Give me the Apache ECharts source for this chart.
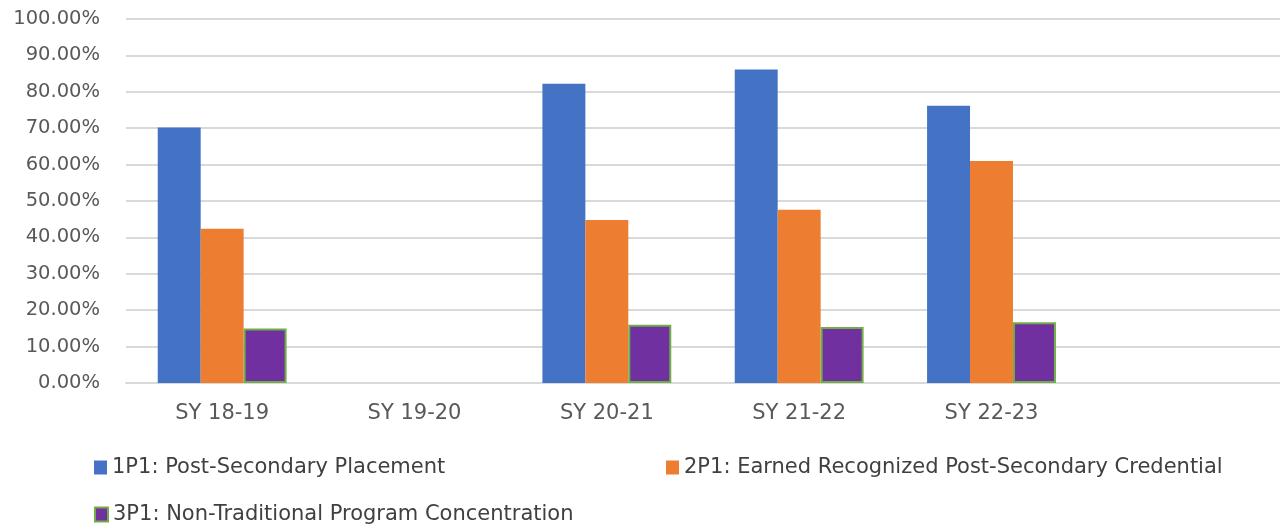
<!DOCTYPE html>
<html>
<head>
<meta charset="utf-8">
<script src="https://cdn.jsdelivr.net/npm/echarts@6/dist/echarts.min.js"></script>
<style>
html,body{margin:0;padding:0;background:#fff;}
#chart{width:1280px;height:531px;}
</style>
</head>
<body>
<div id="chart"></div>
<script>
const categories = ['SY 18-19', 'SY 19-20', 'SY 20-21', 'SY 21-22', 'SY 22-23', ''];
const seriesNames = [
  '1P1: Post-Secondary Placement',
  '2P1: Earned Recognized Post-Secondary Credential',
  '3P1: Non-Traditional Program Concentration'
];
const placement = [70.2, null, 82.2, 86.1, 76.2, null];
const credential = [42.4, null, 44.8, 47.6, 61.0, null];
const nonTraditional = [15.0, null, 16.0, 15.4, 16.7, null];
const yTicks = [0, 10, 20, 30, 40, 50, 60, 70, 80, 90, 100];

const FONT = 'DejaVu Sans';
const chart = echarts.init(document.getElementById('chart'));
const legendText = {fontFamily: FONT, fontSize: 21, color: '#404040'};
chart.setOption({
  animation: false,
  grid: {left: 126, right: -3, top: 19, bottom: 148, containLabel: false},
  xAxis: {
    type: 'category',
    data: categories,
    axisLine: {show: true, lineStyle: {color: '#d9d9d9', width: 2}},
    axisTick: {show: false},
    axisLabel: {fontFamily: FONT, fontSize: 21, color: '#595959', margin: 20}
  },
  yAxis: {
    type: 'value',
    min: yTicks[0],
    max: yTicks[yTicks.length - 1],
    interval: 10,
    axisLine: {show: false},
    axisTick: {show: false},
    splitLine: {lineStyle: {color: '#d9d9d9', width: 2}},
    axisLabel: {
      fontFamily: FONT, fontSize: 19.5, color: '#595959', margin: 26,
      formatter: v => v.toFixed(2) + '%'
    }
  },
  legend: [
    {data: [seriesNames[0]], left: 89, top: 452, itemWidth: 13, itemHeight: 14, itemGap: 6, textStyle: legendText, icon: 'rect'},
    {data: [seriesNames[1]], left: 661, top: 452, itemWidth: 13, itemHeight: 14, itemGap: 6, textStyle: legendText, icon: 'rect'},
    {data: [seriesNames[2]], left: 89, top: 499, itemWidth: 13, itemHeight: 14, itemGap: 6, textStyle: legendText, icon: 'rect'}
  ],
  series: [
    {name: seriesNames[0], type: 'bar', data: placement, barGap: '0%', barCategoryGap: '33%',
     itemStyle: {color: '#4472C4'}},
    {name: seriesNames[1], type: 'bar', data: credential, barGap: '0%', barCategoryGap: '33%',
     itemStyle: {color: '#ED7D31'}},
    {name: seriesNames[2], type: 'bar', data: nonTraditional, barGap: '0%', barCategoryGap: '33%',
     itemStyle: {color: '#7030A0', borderColor: '#70AD47', borderWidth: 2}}
  ]
});
</script>
</body>
</html>
